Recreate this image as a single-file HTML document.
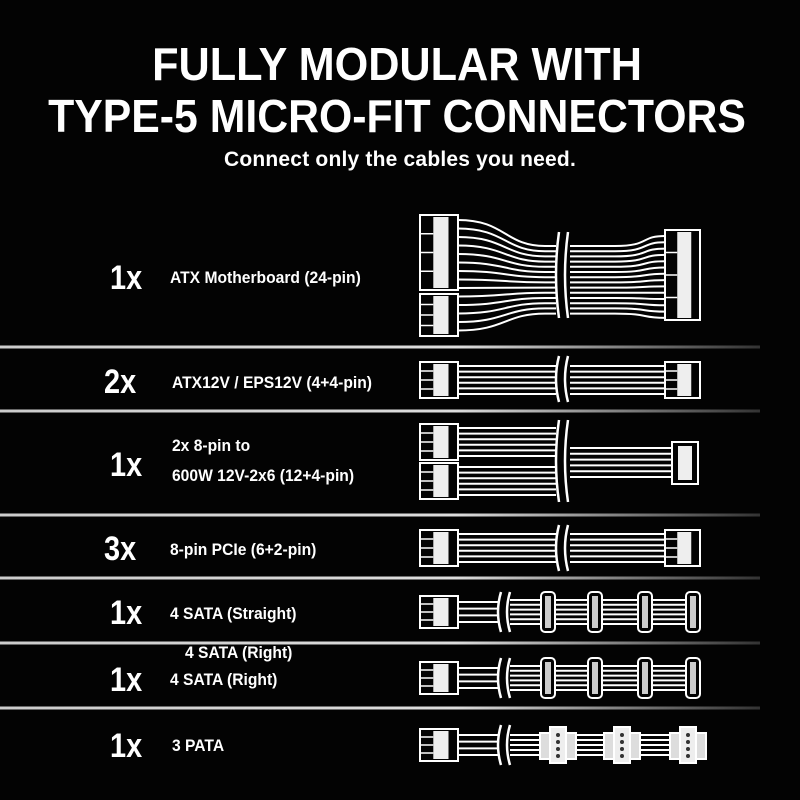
<!DOCTYPE html>
<html><head><meta charset="utf-8"><style>
html,body{margin:0;padding:0;background:#000;}
svg{display:block}
text{font-family:"Liberation Sans",sans-serif;fill:#fff}
</style></head><body>
<svg id="s" width="800" height="800" viewBox="0 0 800 800" xmlns="http://www.w3.org/2000/svg">
<defs>
<linearGradient id="ln" x1="0" x2="1"><stop offset="0" stop-color="#ccc"/><stop offset="0.6" stop-color="#ddd"/><stop offset="1" stop-color="#333"/></linearGradient>
</defs>
<rect width="800" height="800" fill="#030303"/>
<text x="397" y="80" text-anchor="middle" font-size="46" font-weight="bold" transform="translate(397,0) scale(0.94,1) translate(-397,0)">FULLY MODULAR WITH</text>
<text x="397" y="132" text-anchor="middle" font-size="46" font-weight="bold" transform="translate(397,0) scale(0.93,1) translate(-397,0)">TYPE-5 MICRO-FIT CONNECTORS</text>
<text x="400" y="166" text-anchor="middle" font-size="21" font-weight="bold" letter-spacing="0.2">Connect only the cables you need.</text>
<g id="lines"></g>
<g id="lbl" font-weight="bold"></g>
<g id="cab" fill="none" stroke="#fff"></g>
</svg>
<script>
const ns="http://www.w3.org/2000/svg";
function el(p,t,a,txt){const e=document.createElementNS(ns,t);for(const k in a)e.setAttribute(k,a[k]);if(txt)e.textContent=txt;document.getElementById(p).appendChild(e);return e;}
[347,411,515,578,643,708].forEach(y=>el('lines','rect',{x:0,y:y-1.5,width:760,height:3,fill:'url(#ln)'}));
function lab(x,y,t,sz,sx){el('lbl','text',{x:x,y:y,'font-size':sz,transform:`translate(${x},0) scale(${sx},1) translate(${-x},0)`},t);}
[[110,289,'1x'],[104,393,'2x'],[110,476,'1x'],[104,560,'3x'],[110,624,'1x'],[110,691,'1x'],[110,757,'1x']].forEach(a=>lab(a[0],a[1],a[2],34,0.85));
[[170,283,'ATX Motherboard (24-pin)'],[172,388,'ATX12V / EPS12V (4+4-pin)'],[172,451,'2x 8-pin to'],[172,481,'600W 12V-2x6 (12+4-pin)'],[170,555,'8-pin PCIe (6+2-pin)'],[170,619,'4 SATA (Straight)'],[185,658,'4 SATA (Right)'],[170,685,'4 SATA (Right)'],[172,751,'3 PATA']].forEach(a=>lab(a[0],a[1],a[2],17,0.92));
function conn(x,y,w,h){el('cab','rect',{x:x,y:y,width:w,height:h,'stroke-width':2});el('cab','rect',{x:x+w*0.35,y:y+2,width:w*0.4,height:h-4,fill:'#eee',stroke:'none'});
 for(let i=1;i<4;i++)el('cab','line',{x1:x,y1:y+h*i/4,x2:x+w*0.35,y2:y+h*i/4,'stroke-width':1.5});}
function wires(x1,x2,y1,y2,n){for(let i=0;i<n;i++){const y=y1+(y2-y1)*i/(n-1);el('cab','line',{x1:x1,y1:y,x2:x2,y2:y,'stroke-width':2});}}
function brk(x,y1,y2){el('cab','rect',{x:x-4,y:y1,width:14,height:y2-y1,fill:'#030303',stroke:'none'});el('cab','path',{d:`M${x-1} ${y1} q-6 ${(y2-y1)/2} 0 ${y2-y1} M${x+8} ${y1} q-6 ${(y2-y1)/2} 0 ${y2-y1}`,'stroke-width':2.5});}
conn(420,215,38,75);conn(420,294,38,42);
for(let i=0;i<14;i++){const ya=220+i*8.5,ym=246+i*5.2,yb=236+i*6.3;el('cab','path',{d:`M458 ${ya} C505 ${ya} 505 ${ym} 545 ${ym} L615 ${ym} C650 ${ym} 640 ${yb} 665 ${yb}`,'stroke-width':2});}
brk(560,232,318);
conn(665,230,35,90);
conn(420,362,38,36);wires(458,665,366,394,6);brk(560,356,402);conn(665,362,35,36);
conn(420,424,38,36);conn(420,463,38,36);wires(458,560,428,456,6);wires(458,560,467,495,6);wires(570,672,448,477,6);brk(560,420,502);
el('cab','rect',{x:672,y:442,width:26,height:42,'stroke-width':2});el('cab','rect',{x:678,y:446,width:14,height:34,fill:'#eee',stroke:'none'});
conn(420,530,38,36);wires(458,665,534,562,6);brk(560,525,571);conn(665,530,35,36);
function sata(y,pata){conn(420,y-16,38,32);wires(458,500,y-10,y+10,4);brk(502,y-20,y+20);
 if(!pata){wires(510,695,y-12,y+12,6);[548,595,645,693].forEach(x=>{el('cab','rect',{x:x-7,y:y-20,width:14,height:40,rx:4,'stroke-width':2,fill:'#030303'});el('cab','rect',{x:x-3,y:y-16,width:6,height:32,fill:'#ccc',stroke:'none'});});}
 else{wires(510,695,y-10,y+10,5);[558,622,688].forEach(x=>{el('cab','rect',{x:x-18,y:y-12,width:36,height:26,'stroke-width':2,fill:'#ddd'});el('cab','rect',{x:x-8,y:y-18,width:16,height:36,'stroke-width':2,fill:'#eee'});for(let k=0;k<4;k++)el('cab','circle',{cx:x,cy:y-10+k*7,r:2,fill:'#333',stroke:'none'});});}}
sata(612,false);sata(678,false);sata(745,true);
</script>
</body></html>
